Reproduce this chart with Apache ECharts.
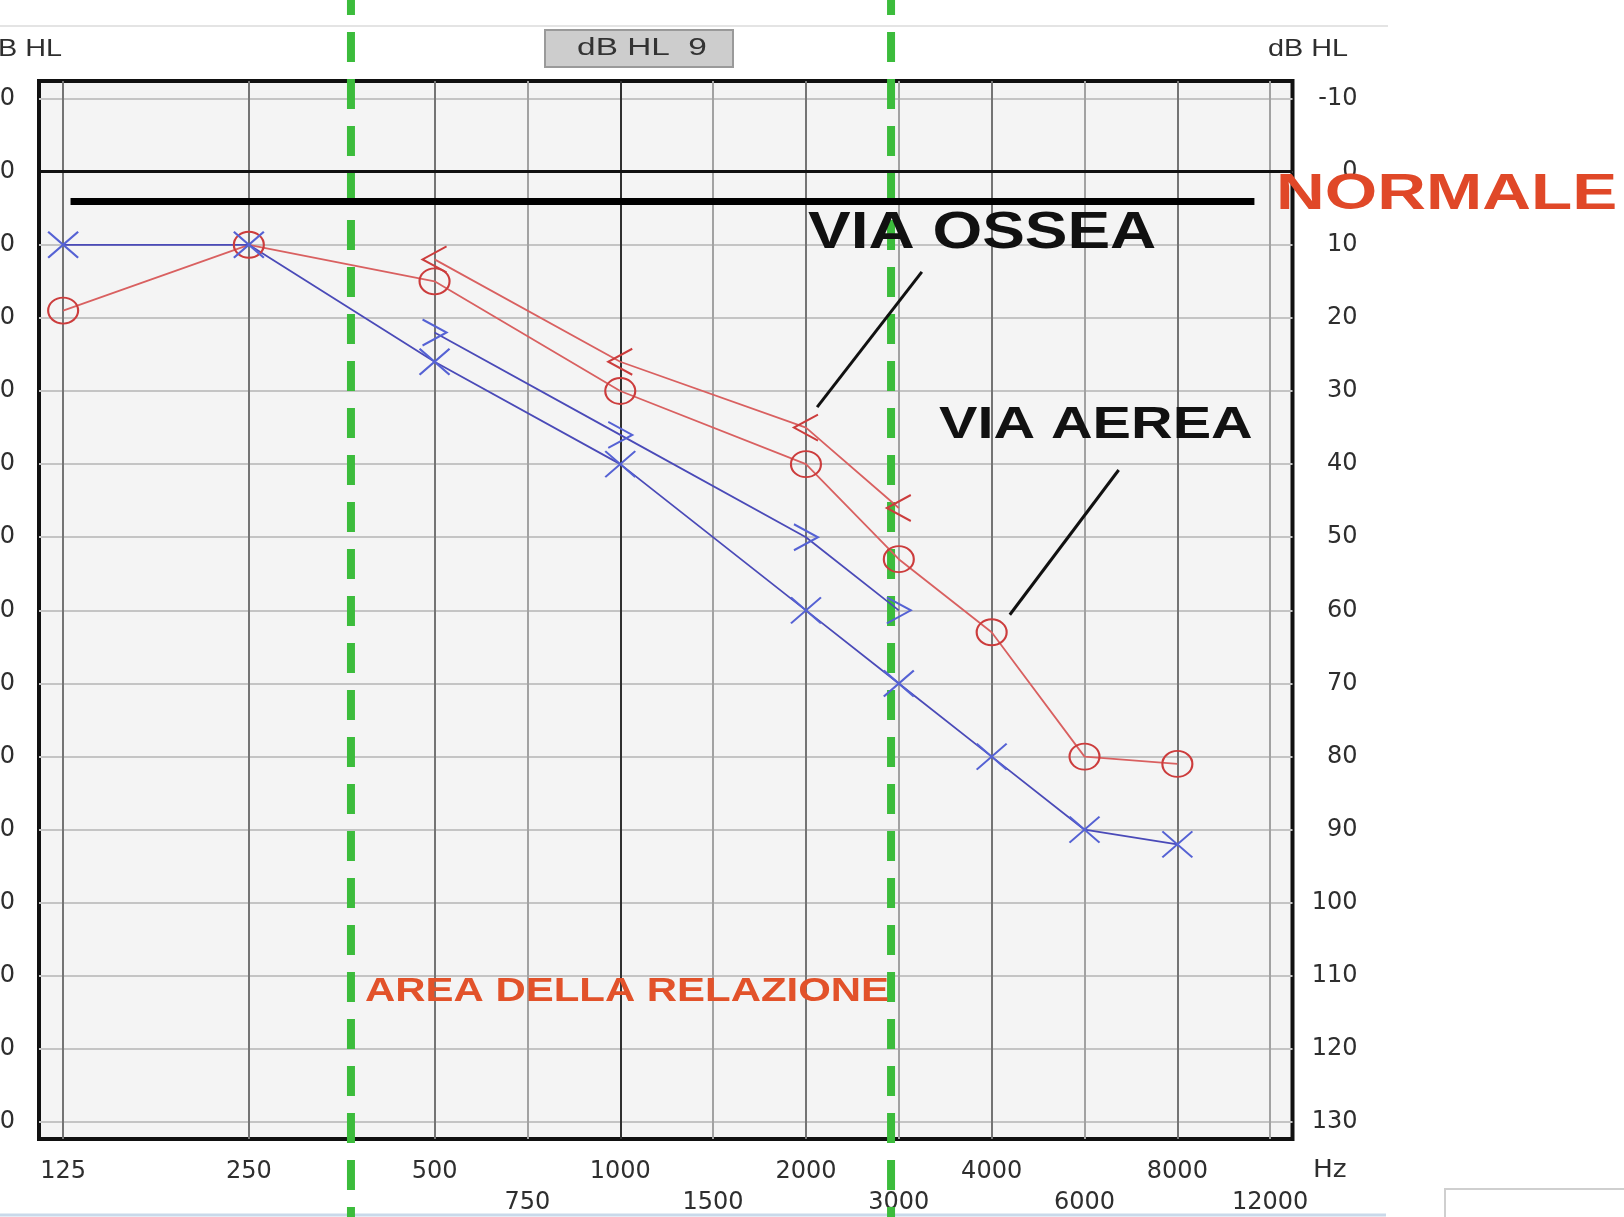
<!DOCTYPE html>
<html>
<head>
<meta charset="utf-8">
<script src="https://cdn.jsdelivr.net/npm/echarts@6/dist/echarts.min.js"></script>
<style>
  html, body { margin: 0; padding: 0; background: #ffffff; }
  #chart { width: 1624px; height: 1217px; }
</style>
</head>
<body>
<div id="chart"></div>
<script>
// ---------------- DATA ----------------
const airFrequencies  = [125, 250, 500, 1000, 2000, 3000, 4000, 6000, 8000];
const boneFrequencies = [500, 1000, 2000, 3000];
const airRight  = [19, 10, 15, 30, 40, 53, 63, 80, 81];   // red O  (via aerea)
const boneRight = [12, 26, 35, 46];                       // red <  (via ossea)
const airLeft   = [10, 10, 26, 40, 60, 70, 80, 90, 92];   // blue X
const boneLeft  = [22, 36, 50, 60];                       // blue >

const gridFrequencies = [125, 250, 500, 750, 1000, 1500, 2000, 3000, 4000, 6000, 8000, 12000];
const mainTickLabels  = [125, 250, 500, 1000, 2000, 4000, 8000];
const midTickLabels   = [750, 1500, 3000, 6000, 12000];
const dbTicks = [-10, 0, 10, 20, 30, 40, 50, 60, 70, 80, 90, 100, 110, 120, 130];

const speechAreaFrequencies = [366, 2900];   // green dashed bounds ("AREA DELLA RELAZIONE")
const normalLevel = 4;                        // thick black "NORMALE" line (dB)
const normalSpan  = [128.5, 11200];           // Hz
// leader lines: [freqStart, dbStart, freqEnd, dbEnd]
const leaderOssea = [3222, 13.7, 2100, 32.2];
const leaderAerea = [6670, 40.8, 4330, 60.6];

// ---------------- AUDIOMETRIC SCALE ----------------
// each octave is one unit; the inter-octave frequencies sit half-way
const gridPos = gridFrequencies.map(f => {
  const o = Math.floor(Math.log2(f / 125) + 1e-9);
  return o + (Math.abs(f - 125 * Math.pow(2, o)) < 1e-6 ? 0 : 0.5);
});
function pos(f) {
  for (let i = 0; i < gridFrequencies.length - 1; i++) {
    const a = gridFrequencies[i], b = gridFrequencies[i + 1];
    if (f >= a && f <= b) {
      return gridPos[i] + (gridPos[i + 1] - gridPos[i]) * Math.log(f / a) / Math.log(b / a);
    }
  }
  return f < 125 ? Math.log2(f / 125) : 6.5 + Math.log2(f / 12000);
}
const labelByPos = {};
gridFrequencies.forEach(f => { labelByPos[pos(f).toFixed(4)] = String(f); });
const fmtFreq = v => labelByPos[Number(v).toFixed(4)] || '';

const gridColors = gridFrequencies.map((f, i) =>
  f === 1000 ? '#303030' : (gridPos[i] % 1 === 0 ? '#747474' : '#a2a2a2'));

const X_MIN = -0.13, X_MAX = 6.62, Y_MIN = -12.4, Y_MAX = 132.3;

const RED_LINE = '#d96060', RED_MARK = '#cc3c3c';
const BLUE_LINE = '#4a4ab8', BLUE_MARK = '#5562d4';
const GREEN = '#3cbc3c';

const tickFont = { fontFamily: 'DejaVu Sans', fontSize: 24, color: '#2e2e2e' };

const SYM_X  = 'path://M0,0L10,10M10,0L0,10';
const SYM_LT = 'path://M10,0L0,5L10,10';
const SYM_GT = 'path://M0,0L10,5L0,10';

function dataSeries(name, freqs, vals, lineColor, markColor, symbol, size) {
  return {
    name, type: 'line', xAxisIndex: 0, yAxisIndex: 0,
    data: freqs.map((f, i) => [pos(f), vals[i]]),
    symbol, symbolSize: size, showAllSymbol: true, symbolKeepAspect: false,
    lineStyle: { color: lineColor, width: 1.8 },
    itemStyle: { color: 'rgba(0,0,0,0)', borderColor: markColor, borderWidth: 2 },
    emphasis: { disabled: true }, silent: true, z: 5
  };
}

const chart = echarts.init(document.getElementById('chart'), null, { renderer: 'canvas', width: 1624, height: 1217 });

const option = {
  backgroundColor: '#ffffff',
  animation: false,
  grid: {
    left: 39, right: 331.5, top: 81, bottom: 78,
    outerBoundsMode: 'none', containLabel: false,
    show: true, backgroundColor: '#f4f4f4', borderColor: '#111111', borderWidth: 4
  },
  xAxis: [
    {
      type: 'value', min: X_MIN, max: X_MAX, position: 'bottom',
      axisLine: { show: false, onZero: false },
      axisTick: { show: false, customValues: gridFrequencies.map(pos) },
      axisLabel: { customValues: mainTickLabels.map(pos), formatter: fmtFreq, margin: 33, verticalAlign: 'middle', ...tickFont },
      splitLine: { show: true, lineStyle: { color: gridColors, width: 2 } }
    },
    {
      type: 'value', min: X_MIN, max: X_MAX, position: 'bottom', offset: 0,
      axisLine: { show: false, onZero: false },
      axisTick: { show: false, customValues: midTickLabels.map(pos) },
      axisLabel: { customValues: midTickLabels.map(pos), formatter: fmtFreq, margin: 64, verticalAlign: 'middle', ...tickFont },
      splitLine: { show: false }
    }
  ],
  yAxis: [
    {
      type: 'value', inverse: true, min: Y_MIN, max: Y_MAX, position: 'left',
      axisLine: { show: false, onZero: false },
      axisTick: { show: false, customValues: dbTicks },
      axisLabel: { customValues: dbTicks, margin: 24, ...tickFont },
      splitLine: { show: true, lineStyle: { color: '#c4c4c4', width: 2 } }
    },
    {
      type: 'value', inverse: true, min: Y_MIN, max: Y_MAX, position: 'right',
      axisLine: { show: false, onZero: false },
      axisTick: { show: false, customValues: dbTicks },
      axisLabel: { customValues: dbTicks, margin: 65, align: 'right', ...tickFont },
      splitLine: { show: false }
    }
  ],
  series: [
    {
      name: 'speech area', type: 'custom', xAxisIndex: 0, yAxisIndex: 0,
      data: speechAreaFrequencies.map(f => [pos(f), 0]),
      encode: { x: 0, y: 1 }, clip: false, silent: true, z: 2,
      renderItem: function (params, api) {
        const x = api.coord([api.value(0), api.value(1)])[0];
        return {
          type: 'line',
          shape: { x1: x, y1: 0, x2: x, y2: api.getHeight() },
          style: { stroke: GREEN, lineWidth: 8, lineDash: [30, 17], lineDashOffset: 15 }
        };
      }
    },
    {
      name: 'annotations', type: 'line', xAxisIndex: 0, yAxisIndex: 0, data: [], silent: true, z: 4,
      markLine: {
        silent: true, symbol: ['none', 'none'], label: { show: false }, animation: false,
        emphasis: { disabled: true },
        data: [
          { yAxis: 0, lineStyle: { color: '#111111', width: 3, type: 'solid' } },
          [ { coord: [pos(normalSpan[0]), normalLevel], lineStyle: { color: '#000000', width: 7, type: 'solid' } },
            { coord: [pos(normalSpan[1]), normalLevel] } ],
          [ { coord: [pos(leaderOssea[0]), leaderOssea[1]], lineStyle: { color: '#111111', width: 3, type: 'solid' } },
            { coord: [pos(leaderOssea[2]), leaderOssea[3]] } ],
          [ { coord: [pos(leaderAerea[0]), leaderAerea[1]], lineStyle: { color: '#111111', width: 3, type: 'solid' } },
            { coord: [pos(leaderAerea[2]), leaderAerea[3]] } ]
        ]
      }
    },
    dataSeries('Via aerea dx', airFrequencies, airRight, RED_LINE, RED_MARK, 'circle', [30, 26]),
    dataSeries('Via ossea dx', boneFrequencies, boneRight, RED_LINE, RED_MARK, SYM_LT, [24, 26]),
    dataSeries('Via aerea sx', airFrequencies, airLeft, BLUE_LINE, BLUE_MARK, SYM_X, [30, 26]),
    dataSeries('Via ossea sx', boneFrequencies, boneLeft, BLUE_LINE, BLUE_MARK, SYM_GT, [24, 26])
  ],
  graphic: [
    // window decorations
    { type: 'line', z: 0, shape: { x1: 0, y1: 26, x2: 1388, y2: 26 }, style: { stroke: '#e4e4e4', lineWidth: 2 } },
    { type: 'line', z: 0, shape: { x1: 0, y1: 1215, x2: 1386, y2: 1215 }, style: { stroke: '#c9d9ea', lineWidth: 3 } },
    { type: 'rect', z: 0, shape: { x: 1445, y: 1189, width: 182, height: 40 }, style: { fill: '#ffffff', stroke: '#cfcfcf', lineWidth: 2 } },
    { type: 'rect', z: 0, shape: { x: 545, y: 30, width: 188, height: 37 }, style: { fill: '#cdcdcd', stroke: '#9a9a9a', lineWidth: 2 } },
    { type: 'text', z: 1, x: 642, y: 49, scaleX: 1.45,
      style: { text: 'dB HL  9', fill: '#333333', fontFamily: 'Liberation Sans', fontSize: 23, align: 'center', verticalAlign: 'middle' } },
    { type: 'text', z: 1, x: 62, y: 49, scaleX: 1.2,
      style: { text: 'dB HL', fill: '#2e2e2e', fontFamily: 'Liberation Sans', fontSize: 24, align: 'right', verticalAlign: 'middle' } },
    { type: 'text', z: 1, x: 1268, y: 49, scaleX: 1.2,
      style: { text: 'dB HL', fill: '#2e2e2e', fontFamily: 'Liberation Sans', fontSize: 24, align: 'left', verticalAlign: 'middle' } },
    { type: 'text', z: 1, x: 1313, y: 1171, scaleX: 1.1,
      style: { text: 'Hz', fill: '#2e2e2e', fontFamily: 'DejaVu Sans', fontSize: 24, align: 'left', verticalAlign: 'middle' } },
    // annotations
    { type: 'text', z: 100, x: 1276, y: 195, scaleX: 1.35,
      style: { text: 'NORMALE', fill: '#e04828', fontFamily: 'Liberation Sans', fontWeight: 'bold', fontSize: 50, align: 'left', verticalAlign: 'middle' } },
    { type: 'text', z: 100, x: 808, y: 234, scaleX: 1.23,
      style: { text: 'VIA OSSEA', fill: '#111111', fontFamily: 'Liberation Sans', fontWeight: 'bold', fontSize: 52, align: 'left', verticalAlign: 'middle' } },
    { type: 'text', z: 100, x: 939, y: 426, scaleX: 1.28,
      style: { text: 'VIA AEREA', fill: '#111111', fontFamily: 'Liberation Sans', fontWeight: 'bold', fontSize: 45, align: 'left', verticalAlign: 'middle' } },
    { type: 'text', z: 100, x: 365, y: 992, scaleX: 1.29,
      style: { text: 'AREA DELLA RELAZIONE', fill: '#e2522a', fontFamily: 'Liberation Sans', fontWeight: 'bold', fontSize: 32.5, align: 'left', verticalAlign: 'middle' } }
  ]
};

chart.setOption(option);
</script>
</body>
</html>
